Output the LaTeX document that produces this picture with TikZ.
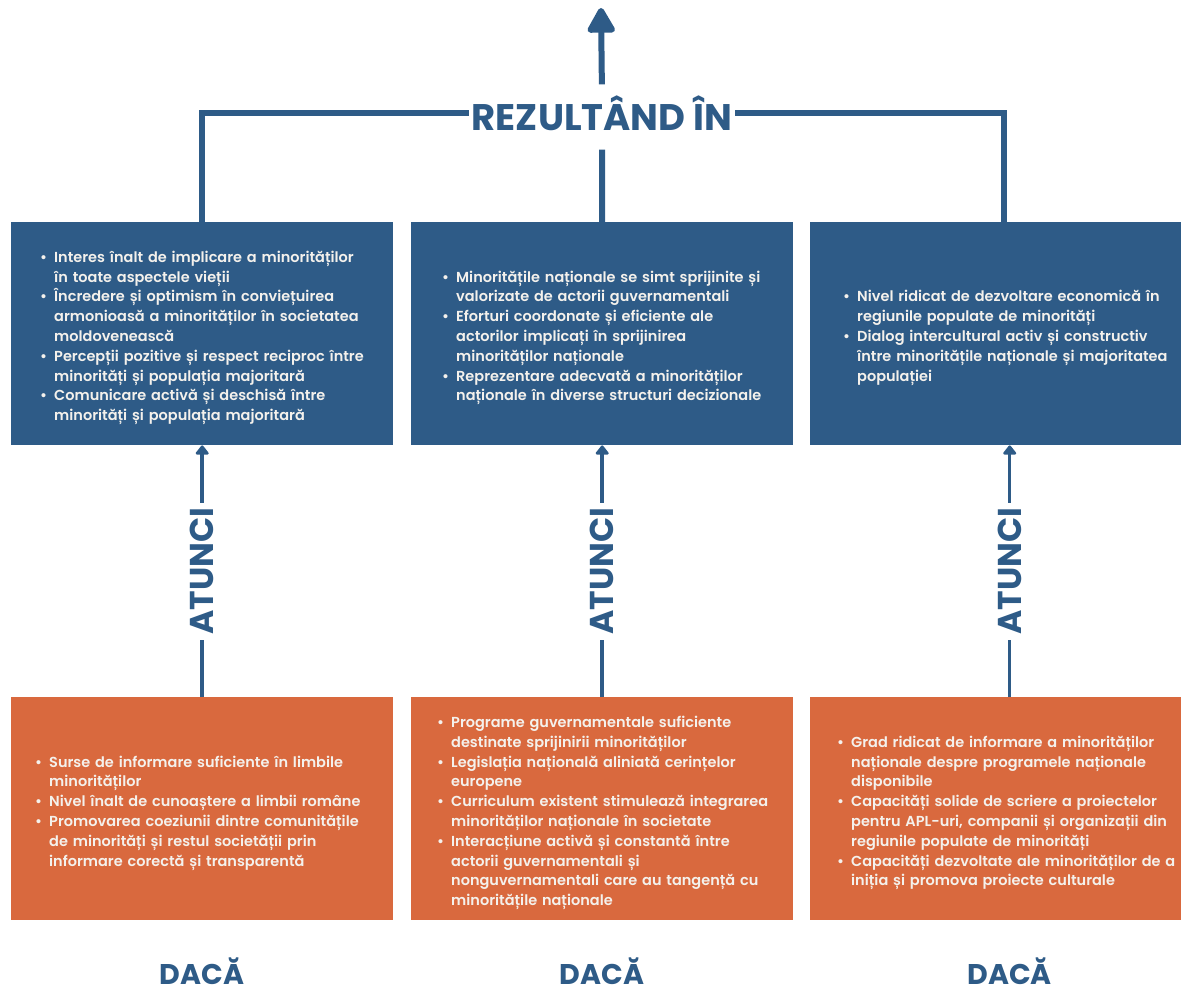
\documentclass[tikz,border=0pt]{standalone}
\usepackage{fontspec}
\setmainfont{Poppins}
\newfontfamily\semibold{Poppins}[UprightFont=* SemiBold]
\usepackage{enumitem}
\usetikzlibrary{positioning, arrows.meta}
\definecolor{rezblue}{HTML}{2E5B87}
\definecolor{ifred}{HTML}{D9693E}
\definecolor{boxtext}{HTML}{F4F1EC}
\setlist[itemize]{label=\textbullet, leftmargin=14pt, labelwidth=8pt, labelsep=6pt, align=left, topsep=0pt, partopsep=0pt, itemsep=0pt, parsep=0pt}

\begin{document}
\begin{tikzpicture}[x=1pt, y=-1pt,
  thenbox/.style={fill=rezblue, minimum width=382pt, minimum height=223pt, anchor=north west, inner sep=0pt},
  ifbox/.style={fill=ifred, minimum width=382pt, minimum height=223pt, anchor=north west, inner sep=0pt},
  listtext/.style={anchor=west, text width=360pt, inner sep=0pt, text=boxtext, font=\semibold\fontsize{14.5}{19.8}\selectfont},
  bracket/.style={rezblue, line width=6pt},
  thenarrow/.style={rezblue, line width=3.5pt, -{Triangle[width=15pt, length=10pt, round]}},
  vlabel/.style={rotate=90, fill=white, text=rezblue, inner xsep=5pt, inner ysep=2pt, font=\bfseries\fontsize{33}{33}\selectfont},
  ifname/.style={text=rezblue, inner sep=0pt, anchor=base, font=\bfseries\fontsize{28.5}{28.5}\selectfont},
  resname/.style={text=rezblue, inner xsep=3pt, inner ysep=0pt, font=\bfseries\fontsize{37}{37}\selectfont},
]
\useasboundingbox (0,0) rectangle (1181,996);

\node[thenbox] (b1) at (11,222) {};
\node[thenbox] (b2) at (411,222) {};
\node[thenbox, minimum width=371pt] (b3) at (810,222) {};
\node[ifbox] (o1) at (11,697) {};
\node[ifbox] (o2) at (411,697) {};
\node[ifbox, minimum width=371pt] (o3) at (810,697) {};

\node[listtext] (b1t) at ([xshift=29pt]b1.west) {\begin{itemize}
\item Interes înalt de implicare a minorităților\\ în toate aspectele vieții
\item Încredere și optimism în conviețuirea\\ armonioasă a minorităților în societatea\\ moldovenească
\item Percepții pozitive și respect reciproc între\\ minorități și populația majoritară
\item Comunicare activă și deschisă între\\ minorități și populația majoritară
\end{itemize}};
\node[listtext] (b2t) at ([xshift=31pt]b2.west) {\begin{itemize}
\item Minoritățile naționale se simt sprijinite și\\ valorizate de actorii guvernamentali
\item Eforturi coordonate și eficiente ale\\ actorilor implicați în sprijinirea\\ minorităților naționale
\item Reprezentare adecvată a minorităților\\ naționale în diverse structuri decizionale
\end{itemize}};
\node[listtext] (b3t) at ([xshift=33pt]b3.west) {\begin{itemize}
\item Nivel ridicat de dezvoltare economică în\\ regiunile populate de minorități
\item Dialog intercultural activ și constructiv\\ între minoritățile naționale și majoritatea\\ populației
\end{itemize}};

\node[listtext] (o1t) at ([xshift=24pt]o1.west) {\begin{itemize}
\item Surse de informare suficiente în limbile\\ minorităților
\item Nivel înalt de cunoaștere a limbii române
\item Promovarea coeziunii dintre comunitățile\\ de minorități și restul societății prin\\ informare corectă și transparentă
\end{itemize}};
\node[listtext] (o2t) at ([xshift=26pt]o2.west) {\begin{itemize}
\item Programe guvernamentale suficiente\\ destinate sprijinirii minorităților
\item Legislația națională aliniată cerințelor\\ europene
\item Curriculum existent stimulează integrarea\\ minorităților naționale în societate
\item Interacțiune activă și constantă între\\ actorii guvernamentali și\\ nonguvernamentali care au tangență cu\\ minoritățile naționale
\end{itemize}};
\node[listtext] (o3t) at ([xshift=27pt]o3.west) {\begin{itemize}
\item Grad ridicat de informare a minorităților\\ naționale despre programele naționale\\ disponibile
\item Capacități solide de scriere a proiectelor\\ pentru APL-uri, companii și organizații din\\ regiunile populate de minorități
\item Capacități dezvoltate ale minorităților de a\\ iniția și promova proiecte culturale
\end{itemize}};

\node[resname] (res) at (602,113) {REZULTÂND ÎN};
\coordinate (top) at (601,8);
\draw[bracket] (b1.north) |- (res.west);
\draw[bracket] ([xshift=8pt]b3.north) |- (res.east);
\draw[bracket, shorten >=19pt] (b2.north) -- (res.south);
\draw[bracket, -{Triangle[width=30pt, length=28pt, round]}, shorten <=11pt] (res.north) -- (top);

\draw[thenarrow] (o1.north) -- node[vlabel] {ATUNCI} (b1.south);
\draw[thenarrow] (o2.north) -- node[vlabel] {ATUNCI} (b2.south);
\draw[thenarrow] ([xshift=14pt]o3.north) -- node[vlabel] {ATUNCI} ([xshift=14pt]b3.south);

\node[ifname] (d1) at ([yshift=-64pt]o1.south) {DACĂ};
\node[ifname] (d2) at ([yshift=-64pt]o2.south) {DACĂ};
\node[ifname] (d3) at ([xshift=14pt, yshift=-64pt]o3.south) {DACĂ};
\end{tikzpicture}
\end{document}
